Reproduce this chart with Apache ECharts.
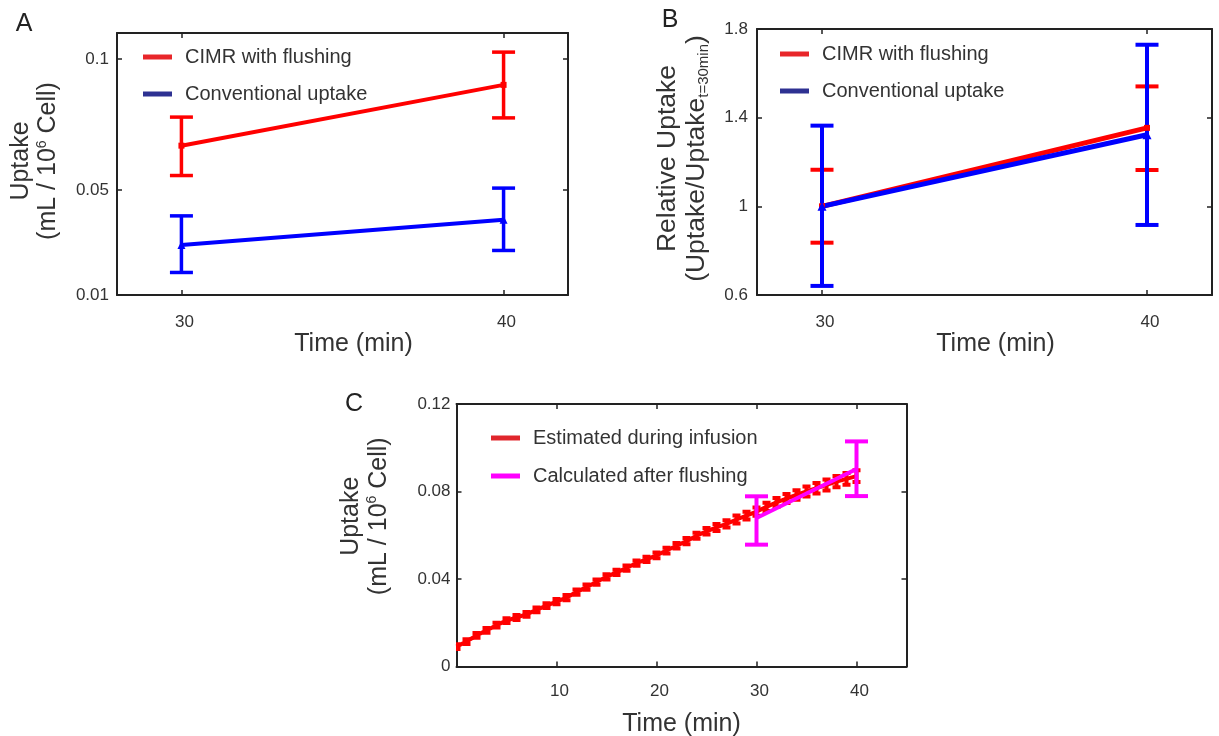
<!DOCTYPE html>
<html><head><meta charset="utf-8">
<script src="https://cdn.jsdelivr.net/npm/echarts@6/dist/echarts.min.js"></script>
<style>html,body{margin:0;padding:0;background:#fff}#chart{width:1219px;height:736px}</style>
</head><body><div id="chart"></div>
<script>
// ---------- Panel A : absolute uptake ----------
var timesAB = [30, 40];
var cimrUptake = [0.0670, 0.0902];
var cimrLow = [0.0556, 0.0776];
var cimrHigh = [0.0779, 0.1027];
var convUptake = [0.0291, 0.0387];
var convLow = [0.0186, 0.0270];
var convHigh = [0.0402, 0.0508];
var ticksAY = [0.01, 0.05, 0.1];
var ticksABX = [30, 40];
// ---------- Panel B : relative uptake ----------
var cimrRel = [1.0, 1.354];
var cimrRelLow = [0.836, 1.164];
var cimrRelHigh = [1.165, 1.541];
var convRel = [1.0, 1.323];
var convRelLow = [0.641, 0.916];
var convRelHigh = [1.364, 1.729];
var ticksBY = [0.6, 1, 1.4, 1.8];
// ---------- Panel C : uptake over time ----------
var timesC = [0,1,2,3,4,5,6,7,8,9,10,11,12,13,14,15,16,17,18,19,20,21,22,23,24,25,26,27,28,29,30,31,32,33,34,35,36,37,38,39,40];
var estUptake = [0.0091,0.0114,0.0142,0.0165,0.0189,0.0210,0.0224,0.0238,0.0259,0.0278,
                 0.0297,0.0315,0.0340,0.0363,0.0386,0.0410,0.0430,0.0450,0.0473,0.0490,
                 0.0508,0.0530,0.0552,0.0573,0.0598,0.0618,0.0636,0.0652,0.0672,0.0690,
                 0.0708,0.0730,0.0750,0.0768,0.0784,0.0800,0.0815,0.0830,0.0845,0.0858,0.0870];
var estErr = [0.0011,0.0011,0.0011,0.0011,0.0011,0.0011,0.0011,0.0011,0.0011,0.0011,
              0.0012,0.0012,0.0012,0.0012,0.0012,0.0012,0.0012,0.0012,0.0012,0.0012,
              0.0013,0.0013,0.0013,0.0014,0.0014,0.0015,0.0016,0.0017,0.0018,0.0018,
              0.0019,0.0019,0.0020,0.0021,0.0022,0.0023,0.0024,0.0025,0.0026,0.0027,0.0027];
var flushTimes = [30, 40];
var flushUptake = [0.0679, 0.0903];
var flushLow = [0.0557, 0.0779];
var flushHigh = [0.0778, 0.1029];
var ticksCX = [10, 20, 30, 40];
var ticksCY = [0, 0.04, 0.08, 0.12];

var F = '"Liberation Sans", Arial, Helvetica, sans-serif';
var AX = '#222';
var TX = '#333';

function pairs(xs, ys) { return xs.map(function (x, i) { return [x, ys[i]]; }); }
function errData(xs, lo, hi) { return xs.map(function (x, i) { return [x, lo[i], hi[i]]; }); }

function errRender(capW, lw, color) {
  return function (params, api) {
    var x = api.value(0), lo = api.value(1), hi = api.value(2);
    var a = api.coord([x, lo]), b = api.coord([x, hi]);
    var h = capW / 2;
    var st = { stroke: color, lineWidth: lw };
    return { type: 'group', children: [
      { type: 'line', shape: { x1: a[0], y1: a[1], x2: b[0], y2: b[1] }, style: st },
      { type: 'line', shape: { x1: a[0] - h, y1: a[1], x2: a[0] + h, y2: a[1] }, style: st },
      { type: 'line', shape: { x1: b[0] - h, y1: b[1], x2: b[0] + h, y2: b[1] }, style: st }
    ]};
  };
}

function xAxes(g, min, max, ticks, margin, nameGap, namePad) {
  return [{
    type: 'value', gridIndex: g, min: min, max: max, position: 'bottom',
    axisLine: { show: true, onZero: false, lineStyle: { color: AX, width: 2 } },
    axisTick: { show: true, inside: true, length: 5, customValues: ticks, lineStyle: { color: AX, width: 1.5 } },
    axisLabel: { show: true, customValues: ticks, margin: margin, color: TX, fontSize: 17, fontFamily: F, padding: [0, 0, 0, 6] },
    splitLine: { show: false },
    name: 'Time (min)', nameLocation: 'middle', nameGap: nameGap,
    nameTextStyle: { fontSize: 25, fontFamily: F, color: TX, padding: namePad }
  }, {
    type: 'value', gridIndex: g, min: min, max: max, position: 'top',
    axisLine: { show: true, onZero: false, lineStyle: { color: AX, width: 2 } },
    axisTick: { show: true, inside: true, length: 5, customValues: ticks, lineStyle: { color: AX, width: 1.5 } },
    axisLabel: { show: false }, splitLine: { show: false }
  }];
}
function yAxes(g, min, max, ticks, margin, name, nameGap, namePad, fs, lh, rich) {
  return [{
    type: 'value', gridIndex: g, min: min, max: max, position: 'left',
    axisLine: { show: true, onZero: false, lineStyle: { color: AX, width: 2 } },
    axisTick: { show: true, inside: true, length: 5, customValues: ticks, lineStyle: { color: AX, width: 1.5 } },
    axisLabel: { show: true, customValues: ticks, margin: margin, color: TX, fontSize: 17, fontFamily: F },
    splitLine: { show: false },
    name: name, nameLocation: 'middle', nameGap: nameGap,
    nameTextStyle: { fontSize: fs, fontFamily: F, color: TX, lineHeight: lh, padding: namePad, rich: rich }
  }, {
    type: 'value', gridIndex: g, min: min, max: max, position: 'right',
    axisLine: { show: true, onZero: false, lineStyle: { color: AX, width: 2 } },
    axisTick: { show: true, inside: true, length: 5, customValues: ticks, lineStyle: { color: AX, width: 1.5 } },
    axisLabel: { show: false }, splitLine: { show: false }
  }];
}

var supRich = {
  sup: { fontSize: 14, fontFamily: F, color: TX, lineHeight: 14, verticalAlign: 'top' }
};
var subRich = {
  sub: { fontSize: 15, fontFamily: F, color: TX, lineHeight: 15, verticalAlign: 'bottom' }
};

function legendCfg(left, top, gap, items) {
  return {
    orient: 'vertical', left: left, top: top, padding: 0, itemGap: gap,
    itemWidth: 29, itemHeight: 5, icon: 'rect', selectedMode: false,
    textStyle: { fontSize: 20, fontFamily: F, color: TX, lineHeight: 20, padding: [0, 0, 0, 8] },
    data: items
  };
}

var xs = [].concat(xAxes(0, 28, 42, ticksABX, 19, 26, [0, 0, 0, 22]),
                   xAxes(1, 28, 42, ticksABX, 19, 26, [0, 0, 0, 22]),
                   xAxes(2, 0, 45, ticksCX, 16, 45, [0, 0, 0, 0]));
var ys = [].concat(yAxes(0, 0.01, 0.11, ticksAY, 8, 'Uptake\n(mL / 10{sup|6} Cell)', 55, [0, 0, 0, 6], 25, 27, supRich),
                   yAxes(1, 0.6, 1.8, ticksBY, 9, 'Relative Uptake\n(Uptake/Uptake{sub|t=30min})', 46, [0, 0, 0, 7], 26.5, 29, subRich),
                   yAxes(2, 0, 0.12, ticksCY, 6, 'Uptake\n(mL / 10{sup|6} Cell)', 63, [0, 0, 0, 38], 25, 28, supRich));

var RED = '#ff0000', BLUE = '#0000ff', MAG = '#ff00ff';

var option = {
  animation: false,
  backgroundColor: '#ffffff',
  textStyle: { fontFamily: F },
  grid: [
    { left: 117, top: 33, width: 451, height: 262, outerBoundsMode: 'none' },
    { left: 757, top: 29, width: 455, height: 266, outerBoundsMode: 'none' },
    { left: 456.5, top: 404, width: 450, height: 262.5, outerBoundsMode: 'none' }
  ],
  xAxis: xs,
  yAxis: ys,
  legend: [
    legendCfg(143, 47, 17, [
      { name: 'CIMR with flushing', itemStyle: { color: '#e8262a' } },
      { name: 'Conventional uptake', itemStyle: { color: '#2e3192' } }]),
    legendCfg(780, 44, 17, [
      { name: 'CIMR with flushing', itemStyle: { color: '#e8262a' } },
      { name: 'Conventional uptake', itemStyle: { color: '#2e3192' } }]),
    legendCfg(491, 428, 18, [
      { name: 'Estimated during infusion', itemStyle: { color: '#e0262c' } },
      { name: 'Calculated after flushing', itemStyle: { color: MAG } }])
  ],
  graphic: [
    { type: 'text', x: 24, y: 24, style: { text: 'A', font: '25px ' + F, fill: '#222', align: 'center', verticalAlign: 'middle' } },
    { type: 'text', x: 670, y: 20, style: { text: 'B', font: '25px ' + F, fill: '#222', align: 'center', verticalAlign: 'middle' } },
    { type: 'text', x: 354, y: 404, style: { text: 'C', font: '25px ' + F, fill: '#222', align: 'center', verticalAlign: 'middle' } }
  ],
  series: [
    // Panel A
    { type: 'custom', name: 'A-cimr-err', xAxisIndex: 0, yAxisIndex: 0, data: errData(timesAB, cimrLow, cimrHigh),
      encode: { x: 0, y: [1, 2] }, renderItem: errRender(23, 3.5, RED), z: 3 },
    { type: 'line', name: 'CIMR with flushing', xAxisIndex: 0, yAxisIndex: 0, data: pairs(timesAB, cimrUptake),
      symbol: 'rect', symbolSize: 6, lineStyle: { color: RED, width: 4 }, itemStyle: { color: RED }, z: 3 },
    { type: 'custom', name: 'A-conv-err', xAxisIndex: 0, yAxisIndex: 0, data: errData(timesAB, convLow, convHigh),
      encode: { x: 0, y: [1, 2] }, renderItem: errRender(23, 3.5, BLUE), z: 3 },
    { type: 'line', name: 'Conventional uptake', xAxisIndex: 0, yAxisIndex: 0, data: pairs(timesAB, convUptake),
      symbol: 'triangle', symbolSize: 8, lineStyle: { color: BLUE, width: 4 }, itemStyle: { color: BLUE }, z: 3 },
    // Panel B
    { type: 'custom', name: 'B-cimr-err', xAxisIndex: 2, yAxisIndex: 2, data: errData(timesAB, cimrRelLow, cimrRelHigh),
      encode: { x: 0, y: [1, 2] }, renderItem: errRender(23, 4, RED), z: 3 },
    { type: 'line', name: 'CIMR with flushing', xAxisIndex: 2, yAxisIndex: 2, data: pairs(timesAB, cimrRel),
      symbol: 'rect', symbolSize: 6, lineStyle: { color: RED, width: 5 }, itemStyle: { color: RED }, z: 3 },
    { type: 'custom', name: 'B-conv-err', xAxisIndex: 2, yAxisIndex: 2, data: errData(timesAB, convRelLow, convRelHigh),
      encode: { x: 0, y: [1, 2] }, renderItem: errRender(23, 4, BLUE), z: 3 },
    { type: 'line', name: 'Conventional uptake', xAxisIndex: 2, yAxisIndex: 2, data: pairs(timesAB, convRel),
      symbol: 'triangle', symbolSize: 9, lineStyle: { color: BLUE, width: 5 }, itemStyle: { color: BLUE }, z: 3 },
    // Panel C
    { type: 'custom', name: 'C-est-err', xAxisIndex: 4, yAxisIndex: 4, clip: true,
      data: timesC.map(function (t, i) { return [t, estUptake[i] - estErr[i], estUptake[i] + estErr[i]]; }),
      encode: { x: 0, y: [1, 2] }, renderItem: errRender(8, 4, RED), z: 3 },
    { type: 'line', name: 'Estimated during infusion', xAxisIndex: 4, yAxisIndex: 4, data: pairs(timesC, estUptake),
      symbol: 'none', lineStyle: { color: RED, width: 4 }, itemStyle: { color: RED }, z: 3 },
    { type: 'custom', name: 'C-flush-err', xAxisIndex: 4, yAxisIndex: 4, data: errData(flushTimes, flushLow, flushHigh),
      encode: { x: 0, y: [1, 2] }, renderItem: errRender(23, 4, MAG), z: 4 },
    { type: 'line', name: 'Calculated after flushing', xAxisIndex: 4, yAxisIndex: 4, data: pairs(flushTimes, flushUptake),
      symbol: 'none', lineStyle: { color: MAG, width: 4 }, itemStyle: { color: MAG }, z: 4 }
  ]
};

var chart = echarts.init(document.getElementById('chart'), null, { renderer: 'canvas' });
chart.setOption(option);
</script>
</body></html>
